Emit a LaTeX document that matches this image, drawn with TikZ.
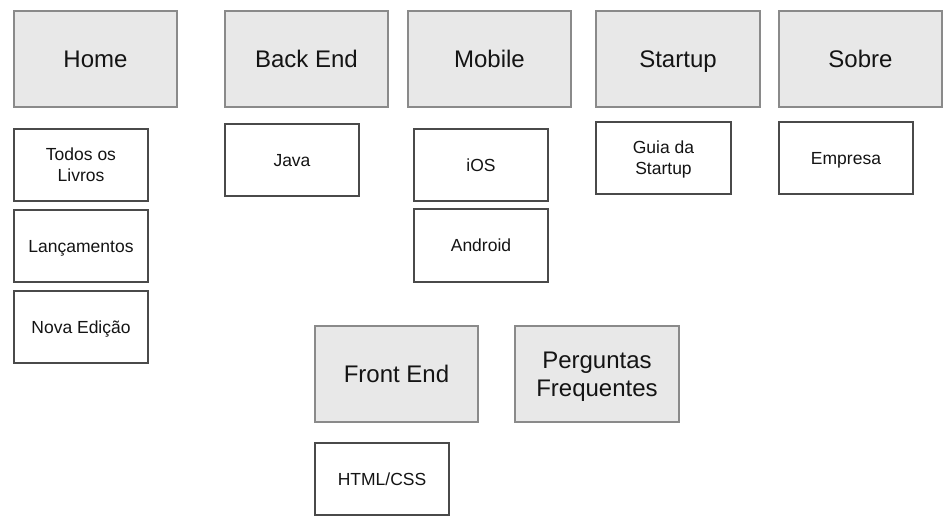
\documentclass[tikz,border=0pt]{standalone}
\usepackage{fontspec}
\setmainfont{Liberation Sans}
\definecolor{pagebox}{HTML}{E8E8E8}
\definecolor{pageline}{HTML}{8A8A8A}
\definecolor{subline}{HTML}{4A4A4A}
\definecolor{txt}{HTML}{141414}
\begin{document}
\begin{tikzpicture}[x=1pt,y=-1pt,
  pagebox/.style={draw=pageline,fill=pagebox,line width=1.1pt,inner sep=0pt,align=center,
    text=txt,font=\fontsize{24}{28.4}\selectfont,text height=17.2pt,text depth=0pt},
  pagetwo/.style={pagebox,text height=45.6pt},
  subbox/.style={draw=subline,fill=white,line width=1.1pt,inner sep=0pt,align=center,
    text=txt,font=\fontsize{17.5}{20.7}\selectfont,text height=12.5pt,text depth=0pt},
  subtwo/.style={subbox,text height=33.2pt}]
\useasboundingbox[fill=white] (0,0) rectangle (951,524);
\newcommand{\pbox}[6]{\node[#1,minimum width={#5-#3},minimum height={#6-#4}] (#2) at ({(#3+#5)/2},{(#4+#6)/2})}
\pbox{pagebox}{home}{14}{11}{177}{107} {Home};
\pbox{pagebox}{backend}{225}{11}{388}{107} {Back End};
\pbox{pagebox}{mobile}{408}{11}{571}{107} {Mobile};
\pbox{pagebox}{startup}{596}{11}{760}{107} {Startup};
\pbox{pagebox}{sobre}{779}{11}{942}{107} {Sobre};
\pbox{pagebox}{frontend}{315}{326}{478}{422} {Front End};
\pbox{pagetwo}{faq}{515}{326}{679}{422} {Perguntas\\Frequentes};
\pbox{subtwo}{todos}{14}{129}{148}{201} {Todos os\\Livros};
\pbox{subbox}{lanc}{14}{210}{148}{282} {Lançamentos};
\pbox{subbox}{nova}{14}{291}{148}{363} {Nova Edição};
\pbox{subbox}{java}{225}{124}{359}{196} {Java};
\pbox{subbox}{ios}{414}{129}{548}{201} {iOS};
\pbox{subbox}{android}{414}{209}{548}{282} {Android};
\pbox{subtwo}{guia}{596}{122}{731}{194} {Guia da\\Startup};
\pbox{subbox}{empresa}{779}{122}{913}{194} {Empresa};
\pbox{subbox}{html}{315}{443}{449}{515} {HTML/CSS};
\end{tikzpicture}
\end{document}
